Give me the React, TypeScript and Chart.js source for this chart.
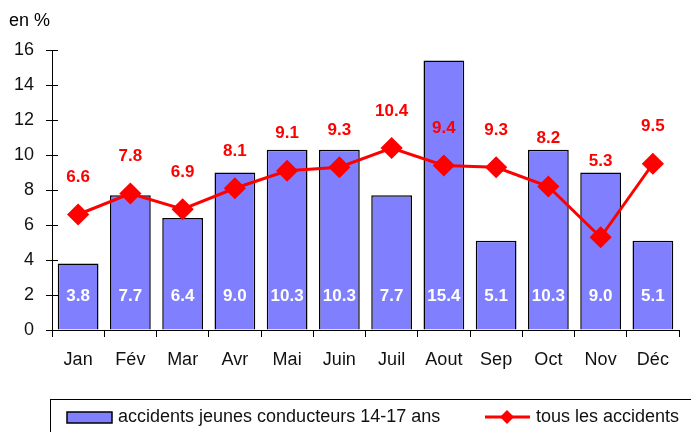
import React, { useEffect, useRef } from "react";
import { Chart, registerables } from "chart.js";

Chart.register(...registerables);

const months = ["Jan", "Fév", "Mar", "Avr", "Mai", "Juin", "Juil", "Aout", "Sep", "Oct", "Nov", "Déc"];
const youngDrivers = [3.8, 7.7, 6.4, 9.0, 10.3, 10.3, 7.7, 15.4, 5.1, 10.3, 9.0, 5.1];
const allAccidents = [6.6, 7.8, 6.9, 8.1, 9.1, 9.3, 10.4, 9.4, 9.3, 8.2, 5.3, 9.5];
const seriesNames = ["accidents jeunes conducteurs 14-17 ans", "tous les accidents"];
const unitLabel = "en %";

const FONT = "Arial, 'Liberation Sans', sans-serif";
const BAR_COLOR = "#8080ff";
const LINE_COLOR = "#ff0000";

const labelsPlugin = {
  id: "customLabels",
  afterDatasetsDraw(chart: any) {
    const ctx = chart.ctx;
    const yScale = chart.scales.y;
    ctx.save();
    ctx.textAlign = "center";
    ctx.textBaseline = "middle";
    const barMeta = chart.getDatasetMeta(0);
    ctx.font = `bold 17px ${FONT}`;
    ctx.fillStyle = "#ffffff";
    barMeta.data.forEach((el: any, i: number) => {
      ctx.fillText(youngDrivers[i].toFixed(1), el.x, yScale.getPixelForValue(1.9));
    });
    const lineMeta = chart.getDatasetMeta(1);
    ctx.fillStyle = LINE_COLOR;
    lineMeta.data.forEach((el: any, i: number) => {
      let ly = el.y - 37;
      const barTop = barMeta.data[i].y;
      // nudge label above the bar when it would sit on the bar's top edge
      if (barTop < el.y && ly + 8 > barTop && barTop > ly - 32) {
        ly = barTop - 11;
      }
      ctx.fillText(allAccidents[i].toFixed(1), el.x, ly);
    });
    ctx.restore();
  },
  afterDraw(chart: any) {
    const ctx = chart.ctx;
    const yScale = chart.scales.y;
    const area = chart.chartArea;
    ctx.save();
    // inner part of y tick marks
    ctx.strokeStyle = "#000";
    ctx.lineWidth = 1;
    yScale.ticks.forEach((t: any) => {
      const py = Math.round(yScale.getPixelForValue(t.value)) + 0.5;
      ctx.beginPath();
      ctx.moveTo(area.left, py);
      ctx.lineTo(area.left + 6, py);
      ctx.stroke();
    });
    // unit label
    ctx.font = `18px ${FONT}`;
    ctx.fillStyle = "#000";
    ctx.textAlign = "left";
    ctx.textBaseline = "middle";
    ctx.fillText(unitLabel, 9, 21);
    // legend box
    ctx.strokeStyle = "#000";
    ctx.lineWidth = 1;
    ctx.strokeRect(50.5, 399.5, 700, 60);
    // bar swatch
    ctx.fillStyle = BAR_COLOR;
    ctx.fillRect(67, 412, 45, 11);
    ctx.lineWidth = 1.5;
    ctx.strokeRect(67, 412, 45, 11);
    ctx.fillStyle = "#111";
    ctx.font = `18px ${FONT}`;
    ctx.fillText(seriesNames[0], 118, 417);
    // line swatch
    ctx.strokeStyle = LINE_COLOR;
    ctx.lineWidth = 3;
    ctx.beginPath();
    ctx.moveTo(485, 417);
    ctx.lineTo(530, 417);
    ctx.stroke();
    ctx.fillStyle = LINE_COLOR;
    ctx.beginPath();
    ctx.moveTo(507, 410);
    ctx.lineTo(514, 417);
    ctx.lineTo(507, 424);
    ctx.lineTo(500, 417);
    ctx.closePath();
    ctx.fill();
    ctx.fillStyle = "#111";
    ctx.fillText(seriesNames[1], 536, 417);
    ctx.restore();
  },
};

export default function App() {
  const canvasRef = useRef<HTMLCanvasElement | null>(null);

  useEffect(() => {
    document.body.style.margin = "0";
    const canvas = canvasRef.current;
    if (!canvas) return;
    const chart = new Chart(canvas, {
      data: {
        labels: months,
        datasets: [
          {
            type: "bar",
            label: seriesNames[0],
            data: youngDrivers,
            backgroundColor: BAR_COLOR,
            borderColor: "#000",
            borderWidth: 1.5,
            categoryPercentage: 0.78,
            barPercentage: 1,
            order: 1,
          } as any,
          {
            type: "line",
            label: seriesNames[1],
            data: allAccidents,
            borderColor: LINE_COLOR,
            backgroundColor: LINE_COLOR,
            borderWidth: 3,
            pointStyle: "rectRot",
            pointRadius: 9,
            pointBackgroundColor: LINE_COLOR,
            pointBorderColor: LINE_COLOR,
            tension: 0,
            order: 0,
          } as any,
        ],
      },
      options: {
        responsive: false,
        animation: false,
        layout: { padding: { top: 50, right: 7, left: 0, bottom: 0 } },
        plugins: {
          legend: { display: false },
          tooltip: { enabled: false },
        },
        scales: {
          x: {
            offset: true,
            grid: {
              display: true,
              drawOnChartArea: false,
              tickLength: 7,
              color: "#000",
              offset: true,
            },
            border: { color: "#000", width: 1 },
            ticks: {
              color: "#111",
              font: { family: FONT, size: 18 },
              padding: 12,
              maxRotation: 0,
            },
            afterFit: (scale: any) => {
              scale.height = 102;
            },
          },
          y: {
            min: 0,
            max: 16,
            grid: {
              display: true,
              drawOnChartArea: false,
              tickLength: 6,
              color: "#000",
            },
            border: { color: "#000", width: 1 },
            ticks: {
              stepSize: 2,
              color: "#111",
              font: { family: FONT, size: 18 },
              padding: 12,
            },
            afterFit: (scale: any) => {
              scale.width = 52;
            },
          },
        },
      },
      plugins: [labelsPlugin],
    } as any);
    return () => chart.destroy();
  }, []);

  return (
    <div style={{ position: "fixed", left: 0, top: 0, width: 691, height: 432 }}>
      <canvas ref={canvasRef} width={691} height={432} />
    </div>
  );
}
